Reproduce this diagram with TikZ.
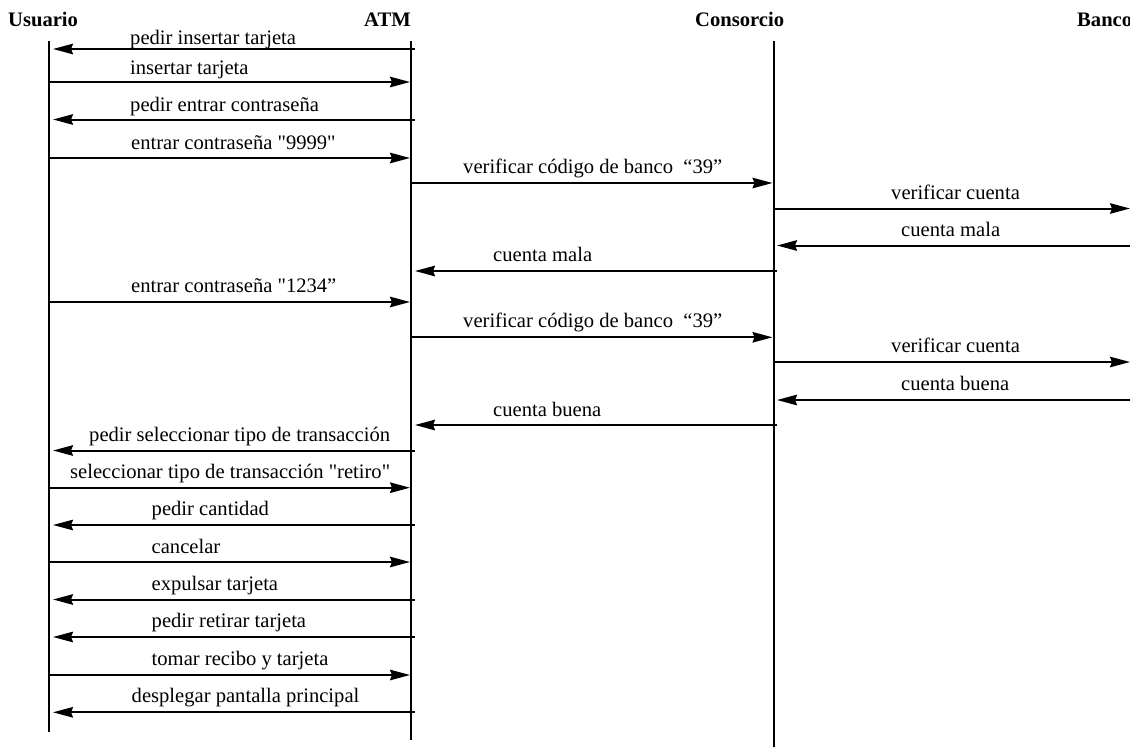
\documentclass[tikz,border=0pt]{standalone}
\usepackage{fontspec}
\setmainfont{Liberation Serif}[Ligatures=TeXOff]
\usetikzlibrary{arrows.meta}
\begin{document}
\begin{tikzpicture}[x=1pt,y=-1pt,
  hdr/.style={inner sep=0pt,anchor=base west,font=\fontsize{20.6}{24}\selectfont\bfseries},
  lbl/.style={inner sep=0pt,anchor=base west,font=\fontsize{20.6}{24}\selectfont},
  life/.style={line width=2pt},
  msg/.style={line width=2pt,-{Stealth[length=20pt,width=10.5pt,inset=2pt]}},
  msgR/.style={msg,shorten >=1pt},
  msgL/.style={msg,shorten >=4pt,shorten <=-4pt}]
\useasboundingbox (0,0) rectangle (1130,747);

% participants
\node[hdr] (hU) at (8,26.5) {Usuario};
\node[hdr] (hA) at (364,26.5) {ATM};
\node[hdr] (hC) at (695,26.5) {Consorcio};
\node[hdr] (hB) at (1077,26.5) {Banco};

% lifelines
\coordinate (uT) at (49,41);   \coordinate (uB) at (49,732);
\coordinate (aT) at (411,41);  \coordinate (aB) at (411,740);
\coordinate (cT) at (773.5,41);\coordinate (cB) at (773.5,747);
\coordinate (bT) at (1130,41);
\draw[life] (uT) -- (uB);
\draw[life] (aT) -- (aB);
\draw[life] (cT) -- (cB);

% messages
\draw[msgL] (aT |- 0,49) -- (uT |- 0,49);
\node[lbl] (m1) at (130,44) {pedir insertar tarjeta};

\draw[msgR] (uT |- 0,82) -- (aT |- 0,82);
\node[lbl] (m2) at (130,74) {insertar tarjeta};

\draw[msgL] (aT |- 0,119.5) -- (uT |- 0,119.5);
\node[lbl] (m3) at (130,111) {pedir entrar contraseña};

\draw[msgR] (uT |- 0,158) -- (aT |- 0,158);
\node[lbl] (m4) at (131,149) {entrar contraseña "9999"};

\draw[msgR] (aT |- 0,183) -- (cT |- 0,183);
\node[lbl] (m5) at (463,173.5) {verificar código de banco \ “39”};

\draw[msg,shorten >=0pt] (cT |- 0,208.5) -- (bT |- 0,208.5);
\node[lbl] (m6) at (891,199) {verificar cuenta};

\draw[msg,shorten >=3.5pt] (bT |- 0,245.5) -- (cT |- 0,245.5);
\node[lbl] (m7) at (901,236.5) {cuenta mala};

\draw[msg,shorten >=4pt,shorten <=-3.5pt] (cT |- 0,271) -- (aT |- 0,271);
\node[lbl] (m8) at (493,261.5) {cuenta mala};

\draw[msgR] (uT |- 0,302) -- (aT |- 0,302);
\node[lbl] (m9) at (131,292.5) {entrar contraseña "1234”};

\draw[msgR] (aT |- 0,337.3) -- (cT |- 0,337.3);
\node[lbl] (m10) at (463,327.5) {verificar código de banco \ “39”};

\draw[msg,shorten >=0pt] (cT |- 0,362) -- (bT |- 0,362);
\node[lbl] (m11) at (891,352.5) {verificar cuenta};

\draw[msg,shorten >=3.5pt] (bT |- 0,400) -- (cT |- 0,400);
\node[lbl] (m12) at (901,390) {cuenta buena};

\draw[msg,shorten >=4pt,shorten <=-3.5pt] (cT |- 0,425) -- (aT |- 0,425);
\node[lbl] (m13) at (493,416) {cuenta buena};

\draw[msgL] (aT |- 0,450.5) -- (uT |- 0,450.5);
\node[lbl] (m14) at (89,441.5) {pedir seleccionar tipo de transacción};

\draw[msgR] (uT |- 0,487.7) -- (aT |- 0,487.7);
\node[lbl] (m15) at (70,478) {seleccionar tipo de transacción "retiro"};

\draw[msgL] (aT |- 0,525) -- (uT |- 0,525);
\node[lbl] (m16) at (151.5,515.5) {pedir cantidad};

\draw[msgR] (uT |- 0,562) -- (aT |- 0,562);
\node[lbl] (m17) at (151.5,553) {cancelar};

\draw[msgL] (aT |- 0,599.5) -- (uT |- 0,599.5);
\node[lbl] (m18) at (151.5,590) {expulsar tarjeta};

\draw[msgL] (aT |- 0,637) -- (uT |- 0,637);
\node[lbl] (m19) at (151.5,627.5) {pedir retirar tarjeta};

\draw[msgR] (uT |- 0,675) -- (aT |- 0,675);
\node[lbl] (m20) at (151.5,665) {tomar recibo y tarjeta};

\draw[msgL] (aT |- 0,712.3) -- (uT |- 0,712.3);
\node[lbl] (m21) at (131.5,702) {desplegar pantalla principal};
\end{tikzpicture}
\end{document}
